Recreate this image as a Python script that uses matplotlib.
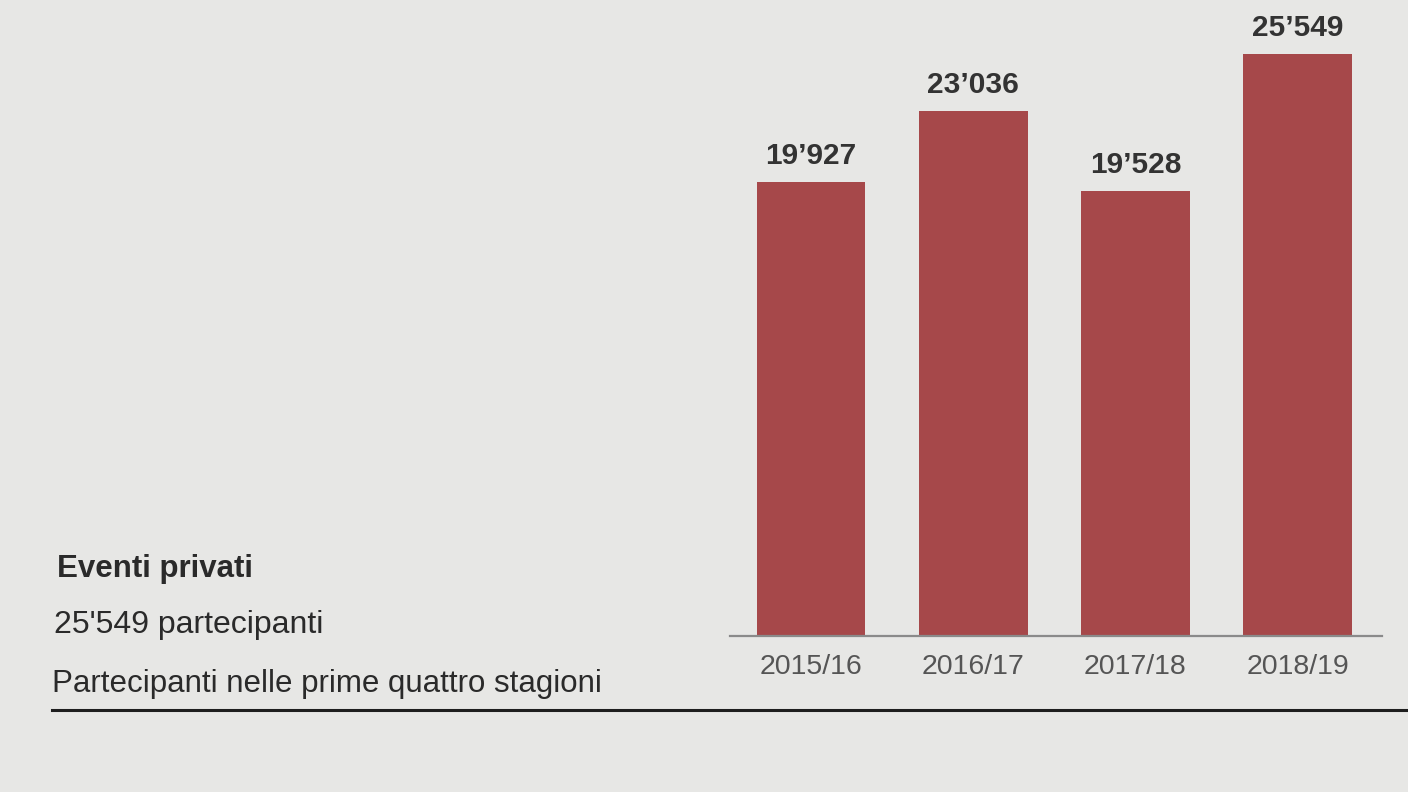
import matplotlib.pyplot as plt

seasons = ['2015/16', '2016/17', '2017/18', '2018/19']
participants = [19927, 23036, 19528, 25549]

title = 'Eventi privati'
total_line = "25'549 partecipanti"
subtitle = 'Partecipanti nelle prime quattro stagioni'

bar_color = '#a6484a'
bg = '#e7e7e5'

plt.rcParams['font.family'] = ['Liberation Sans', 'DejaVu Sans']

fig = plt.figure(figsize=(14.08, 7.92), dpi=100, facecolor=bg)
ax = fig.add_axes([0.5185, 0.197, 0.463, 0.7765])
ax.set_facecolor(bg)

x = list(range(len(seasons)))
bars = ax.bar(x, participants, width=0.67, color=bar_color, zorder=2)

# thousand separator as a typographic apostrophe, like the print
for b, v in zip(bars, participants):
    label = f'{v:,}'.replace(',', '\u2019')
    ax.annotate(label, (b.get_x() + b.get_width() / 2, v),
                xytext=(0, 13), textcoords='offset points',
                ha='center', va='baseline', fontsize=21.5,
                fontweight='bold', color='#333333')

ax.set_xlim(-0.5, 3.52)
ax.set_ylim(0, 27000)
ax.set_xticks(x)
ax.set_xticklabels(seasons, fontsize=20.5, color='#555555')
ax.tick_params(axis='x', length=0, pad=13)
ax.set_yticks([])
for side in ['top', 'right', 'left']:
    ax.spines[side].set_visible(False)
ax.spines['bottom'].set_color('#8a8a8a')
ax.spines['bottom'].set_linewidth(1.6)

fig.text(0.0405, 0.2715, title, fontsize=22.5, fontweight='bold',
         color='#2a2a2a', va='baseline')
fig.text(0.0385, 0.2008, total_line, fontsize=23, color='#2a2a2a',
         va='baseline')
fig.text(0.037, 0.1263, subtitle, fontsize=22.5, color='#2a2a2a',
         va='baseline')
fig.add_artist(plt.Line2D([0.037, 1.0], [0.1035, 0.1035], color='#1e1e1e',
                          linewidth=2.2, transform=fig.transFigure))

fig.savefig('out.png', dpi=100, facecolor=bg)
